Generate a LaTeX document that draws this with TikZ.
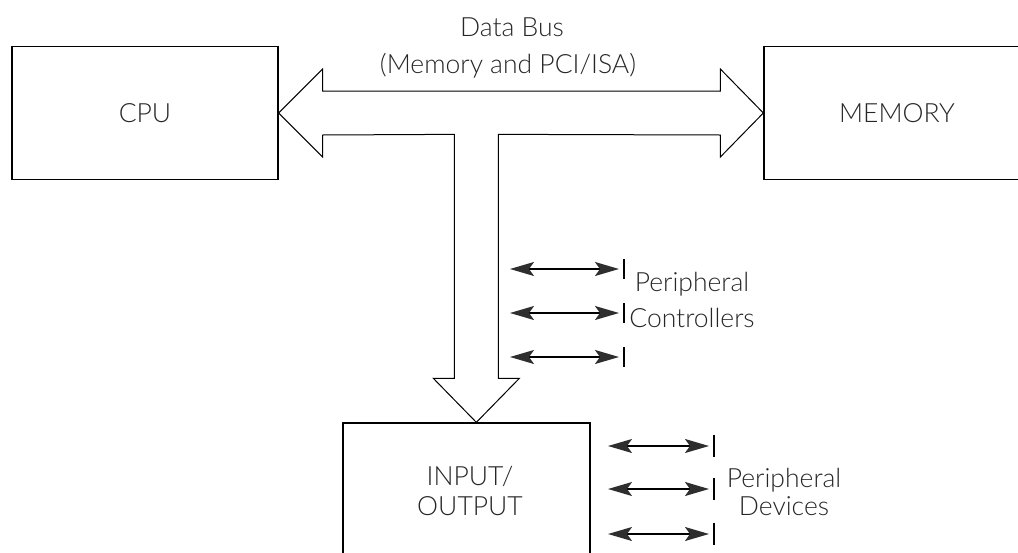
\documentclass[tikz,border=0pt]{standalone}
\usepackage{fontspec}
\IfFontExistsTF{Lato Light}{\setmainfont{Lato Light}}{\setmainfont{Lato}}
\usetikzlibrary{arrows.meta,calc}
\definecolor{headgray}{HTML}{2E2E2E}
\definecolor{inkgray}{HTML}{262626}
\tikzset{headtip/.tip={Stealth[length=24pt,width=14pt,inset=5pt,fill=headgray,color=headgray]}}
\begin{document}
\begin{tikzpicture}[x=1pt,y=-1pt,
  txt/.style={font=\fontsize{26.5}{30}\selectfont, text=inkgray},
  box/.style={draw, line width=1.3pt, minimum width=266pt, minimum height=133pt,
              inner sep=0pt, txt},
  lbl/.style={txt, inner sep=0pt, anchor=base},
  bus/.style={draw, line width=1pt, line join=miter, fill=white},
  link/.style={line width=1.6pt, draw=black, {headtip}-{headtip}},
  stopbar/.style={line width=1.4pt}
]
\useasboundingbox (0,0) rectangle (1018,552);

% main blocks
\node[box] (cpu) at (145,113) {CPU};
\node[box] (mem) at (897,113) {MEMORY};
\node[box, minimum width=247pt] (io) at (466.5,489.5) {};
\node[lbl] (io1) at (470,485) {INPUT/};
\node[lbl] (io2) at (470,515) {OUTPUT};

% data bus: double-headed T arrow
\coordinate (tip) at ($(io.north west)+(134,0)$);
\draw[bus] (cpu.east) -- ++(44,-44) -- ++(0,22)
  -- ($(mem.west)+(-43,-22)$) -- ++(0,-22) -- (mem.west)
  -- ++(-43,44) -- ++(0,-22)
  -- ($(tip)+(22,-288)$) -- ($(tip)+(22,-44)$) -- ++(21,0) -- (tip)
  -- ($(tip)+(-43,-44)$) -- ++(21,0) -- ($(tip)+(-22,-288)$)
  -- ($(cpu.east)+(44,22)$) -- ++(0,22) -- cycle;

\node[lbl] (db1) at (512,36) {Data Bus};
\node[lbl] (db2) at (508,73) {(Memory and PCI/ISA)};

% peripheral controllers
\foreach \y [count=\i] in {269,313,357} {
  \coordinate (ca\i) at (510,\y);
  \coordinate (cb\i) at (619,\y);
  \draw[link] (ca\i) -- (cb\i);
  \draw[stopbar] ($(cb\i)+(5,-10)$) -- ++(0,20);
}
\node[lbl] (pc1) at (692,291) {Peripheral};
\node[lbl] (pc2) at (692,327) {Controllers};

% peripheral devices
\foreach \y [count=\i] in {446,489,534} {
  \coordinate (da\i) at (608,\y);
  \coordinate (db\i) at (709,\y);
  \draw[link] (da\i) -- (db\i);
  \draw[stopbar] ($(db\i)+(5,-11)$) -- ++(0,22);
}
\node[lbl] (pd1) at (784,487) {Peripheral};
\node[lbl] (pd2) at (784,515) {Devices};
\end{tikzpicture}
\end{document}
